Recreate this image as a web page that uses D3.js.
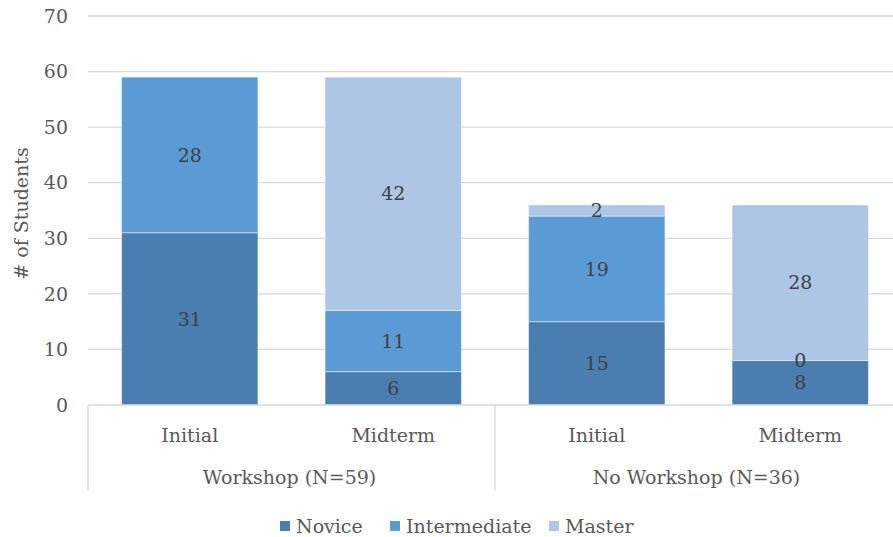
<!DOCTYPE html>
<html>
<head>
<meta charset="utf-8">
<script src="https://cdn.jsdelivr.net/npm/d3@7"></script>
<style>
  html, body { margin: 0; padding: 0; background: #fff; }
  svg { display: block; }
</style>
</head>
<body>
<svg id="chart" width="893" height="537"></svg>
<script>
// Stacked bars: students by proficiency level, per assessment and group
const groups = ["Workshop (N=59)", "No Workshop (N=36)"];
const phases = ["Initial", "Midterm"];
const levels = ["Novice", "Intermediate", "Master"];
const colors = ["#4a7eb1", "#5b9bd5", "#adc6e6"];
const novice =       [31, 6, 15, 8];
const intermediate = [28, 11, 19, 0];
const master =       [null, 42, 2, 28];
const yTicks = [0, 10, 20, 30, 40, 50, 60, 70];

const series = [novice, intermediate, master];
const cats = [];
groups.forEach((g, gi) => phases.forEach((p, pi) => cats.push({ key: gi + "-" + pi, group: g, phase: p })));

const FONT = "DejaVu Serif";
const FS = 19;
const svg = d3.select("#chart").style("font-family", FONT);
const plotLeft = 88, plotRight = 902, plotTop = 16, plotBottom = 405;

const x = d3.scaleBand().domain(cats.map(c => c.key)).range([plotLeft, plotRight])
  .paddingInner(0.33).paddingOuter(0.165);
const y = d3.scaleLinear().domain([0, 70]).range([plotBottom, plotTop]);

function label(sel) {
  return sel.style("font-family", FONT).attr("font-size", FS).attr("fill", "#595959");
}

// gridlines
svg.append("g").selectAll("line").data(yTicks.filter(t => t > 0)).join("line")
  .attr("x1", plotLeft).attr("x2", plotRight)
  .attr("y1", d => y(d)).attr("y2", d => y(d))
  .attr("stroke", "#d9d9d9").attr("stroke-width", 1.3);

// y tick labels
svg.append("g").selectAll("text").data(yTicks).join("text")
  .attr("x", 68).attr("y", d => y(d)).attr("dy", "0.35em")
  .attr("text-anchor", "end").call(label)
  .text(d => d);

// y axis title
svg.append("text")
  .attr("transform", `translate(28,${(plotTop + plotBottom) / 2 + 3}) rotate(-90)`)
  .attr("text-anchor", "middle").call(label)
  .text("# of Students");

// stacked segments
const segs = cats.flatMap((c, i) => {
  let base = 0;
  return series.map((s, si) => {
    const v = s[i];
    const seg = { cat: c.key, level: si, v: v, y0: base, y1: base + (v || 0) };
    base += v || 0;
    return seg;
  });
});

svg.append("g").selectAll("rect").data(segs.filter(d => d.v)).join("rect")
  .attr("x", d => x(d.cat)).attr("width", x.bandwidth())
  .attr("y", d => y(d.y1)).attr("height", d => y(d.y0) - y(d.y1))
  .attr("fill", d => colors[d.level])
  .attr("stroke", "#ffffff").attr("stroke-opacity", 0.45).attr("stroke-width", 1);

// value labels centred in each segment
svg.append("g").selectAll("text").data(segs.filter(d => d.v !== null)).join("text")
  .attr("x", d => x(d.cat) + x.bandwidth() / 2)
  .attr("y", d => y((d.y0 + d.y1) / 2)).attr("dy", "0.35em")
  .attr("text-anchor", "middle").call(label).attr("fill", "#404040")
  .text(d => d.v);

// category axis: baseline, group separators, labels
svg.append("line").attr("x1", plotLeft).attr("x2", plotRight).attr("y1", plotBottom).attr("y2", plotBottom)
  .attr("stroke", "#d9d9d9").attr("stroke-width", 1.3);
const groupEdges = [plotLeft, (x(cats[1].key) + x.bandwidth() + x(cats[2].key)) / 2, plotRight];
svg.append("g").selectAll("line").data(groupEdges).join("line")
  .attr("x1", d => d).attr("x2", d => d).attr("y1", plotBottom).attr("y2", 491)
  .attr("stroke", "#d9d9d9").attr("stroke-width", 1.3);

svg.append("g").selectAll("text").data(cats).join("text")
  .attr("x", d => x(d.key) + x.bandwidth() / 2).attr("y", 435).attr("dy", "0.35em")
  .attr("text-anchor", "middle").call(label)
  .text(d => d.phase);

svg.append("g").selectAll("text").data(groups).join("text")
  .attr("x", (d, i) => (groupEdges[i] + groupEdges[i + 1]) / 2 - 2).attr("y", 477).attr("dy", "0.35em")
  .attr("text-anchor", "middle").call(label)
  .text(d => d);

// legend
const legendX = [280, 390, 549];
const lg = svg.append("g").selectAll("g").data(levels).join("g")
  .attr("transform", (d, i) => `translate(${legendX[i]},526)`);
lg.append("rect").attr("x", 0).attr("y", -5).attr("width", 10).attr("height", 10)
  .attr("fill", (d, i) => colors[i]);
lg.append("text").attr("x", 16).attr("dy", "0.35em").call(label)
  .text(d => d);
</script>
</body>
</html>
